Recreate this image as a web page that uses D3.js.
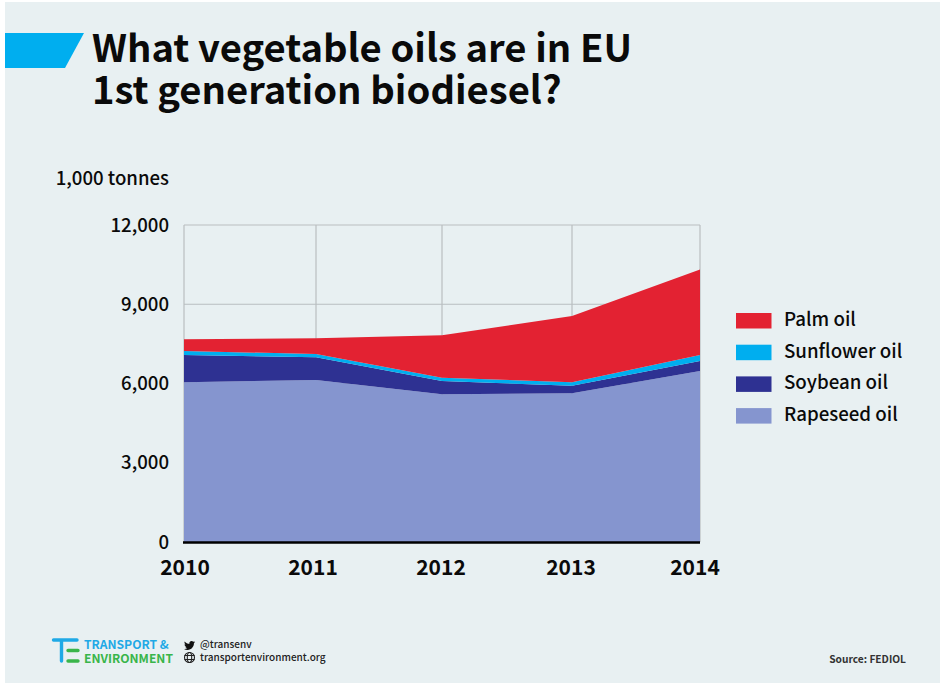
<!DOCTYPE HTML>
<html>
  <head>
    <script src="https://d3js.org/d3.v7.min.js"></script>
    <style>
      body, html {
        margin: 0;
        background: #fff;
      }
      svg {
        display: block;
      }
      text {
        font-family: "Noto Sans CJK JP", "Noto Sans", sans-serif;
        fill: #0a0a0a;
      }
      .title { font-size: 38.2px; font-weight: 700; }
      .unit { font-size: 18.6px; font-weight: 500; }
      .ytick { font-size: 18.6px; font-weight: 500; text-anchor: end; }
      .xtick { font-size: 21px; font-weight: 700; text-anchor: middle; }
      .legend { font-size: 18.7px; font-weight: 500; }
      .small { font-size: 10px; font-weight: 500; fill: #222; }
      .source { font-size: 10.2px; font-weight: 700; fill: #333; }
      .logo { font-size: 12.1px; font-weight: 700; }
    </style>
  </head>
  <body>
    <div id="chart"></div>
    <script>
      var years = [2010, 2011, 2012, 2013, 2014];
      var rapeseed = [6045, 6130, 5590, 5630, 6470];
      var soybean = [1035, 860, 505, 287, 380];
      var sunflower = [150, 125, 125, 128, 230];
      var palm = [445, 595, 1605, 2510, 3240];
      var yTicks = [0, 3000, 6000, 9000, 12000];
      var seriesNames = ["Rapeseed oil", "Soybean oil", "Sunflower oil", "Palm oil"];
      var seriesColors = ["#8595cf", "#2e3192", "#00aeef", "#e32232"];

      var svg = d3.select("#chart").append("svg")
        .attr("width", 940)
        .attr("height", 684);

      svg.append("rect")
        .attr("x", 5).attr("y", 2)
        .attr("width", 935).attr("height", 681)
        .attr("fill", "#e8f0f2");

      // header flag and title
      svg.append("path")
        .attr("d", "M5,33H84L65,68H5Z")
        .attr("fill", "#00aeef");
      svg.append("text").attr("class", "title").attr("x", 92).attr("y", 62).text("What vegetable oils are in EU");
      svg.append("text").attr("class", "title").attr("x", 92).attr("y", 104).text("1st generation biodiesel?");
      svg.append("text").attr("class", "unit").attr("x", 169).attr("y", 185).attr("text-anchor", "end").text("1,000 tonnes");

      // the years are not evenly spaced in the original artwork
      var x = d3.scaleLinear().domain(years).range([184, 316, 442, 572, 700]);
      var xLabel = d3.scaleLinear().domain(years).range([185, 313, 441, 571, 695]);
      var y = d3.scaleLinear().domain([0, 12000]).range([542, 225]);

      var rows = years.map(function(yr, i) {
        return {year: yr, "Rapeseed oil": rapeseed[i], "Soybean oil": soybean[i], "Sunflower oil": sunflower[i], "Palm oil": palm[i]};
      });
      var stacked = d3.stack().keys(seriesNames)(rows);

      // grid
      var grid = svg.append("g").attr("stroke", "#b9bec0").attr("stroke-width", 1.2);
      grid.selectAll("line.v").data(years).enter().append("line")
        .attr("x1", d => x(d)).attr("x2", d => x(d))
        .attr("y1", y(12000)).attr("y2", y(0));
      grid.selectAll("line.h").data(yTicks.slice(1)).enter().append("line")
        .attr("x1", x(2010)).attr("x2", x(2014))
        .attr("y1", d => y(d)).attr("y2", d => y(d));

      var area = d3.area()
        .x(d => x(d.data.year))
        .y0(d => y(d[0]))
        .y1(d => y(d[1]));

      svg.append("g").selectAll("path")
        .data(stacked)
        .enter().append("path")
        .attr("d", area)
        .attr("fill", (d, i) => seriesColors[i]);

      svg.append("line")
        .attr("x1", x(2010) - 1).attr("x2", x(2014))
        .attr("y1", y(0) + 0.5).attr("y2", y(0) + 0.5)
        .attr("stroke", "#000").attr("stroke-width", 2.5);

      // tick labels
      svg.selectAll("text.ytick").data(yTicks).enter().append("text")
        .attr("class", "ytick")
        .attr("x", 169)
        .attr("y", d => y(d) + 6.5)
        .text(d => d3.format(",")(d));
      svg.selectAll("text.xtick").data(years).enter().append("text")
        .attr("class", "xtick")
        .attr("x", d => xLabel(d))
        .attr("y", 575)
        .text(d => d);

      // legend, top entry first
      var legend = svg.selectAll("g.legend")
        .data(seriesNames.slice().reverse())
        .enter().append("g")
        .attr("transform", (d, i) => "translate(736," + (313 + i * 31.7) + ")");
      legend.append("rect")
        .attr("width", 35.5).attr("height", 15.5)
        .attr("fill", (d, i) => seriesColors[3 - i]);
      legend.append("text")
        .attr("class", "legend")
        .attr("x", 48).attr("y", 13)
        .text(d => d);

      // footer: logo, social, source
      var logo = svg.append("g");
      logo.append("path").attr("d", "M53.5,640H77M61.5,640V661").attr("stroke", "#1fa9e6").attr("stroke-width", 3.4).attr("stroke-linecap", "round").attr("fill", "none");
      logo.append("path").attr("d", "M68,650.5H78M68,661H78").attr("stroke", "#39b54a").attr("stroke-width", 3.4).attr("stroke-linecap", "round").attr("fill", "none");
      logo.append("text").attr("class", "logo").attr("x", 84).attr("y", 649).style("fill", "#1fa9e6").text("TRANSPORT &");
      logo.append("text").attr("class", "logo").attr("x", 84).attr("y", 663).style("fill", "#39b54a").text("ENVIRONMENT");

      svg.append("path")
        .attr("transform", "translate(184,640) scale(0.46)")
        .attr("fill", "#111")
        .attr("d", "M23.953 4.57a10 10 0 01-2.825.775 4.958 4.958 0 002.163-2.723c-.951.555-2.005.959-3.127 1.184a4.92 4.92 0 00-8.384 4.482C7.69 8.095 4.067 6.13 1.64 3.162a4.822 4.822 0 00-.666 2.475c0 1.71.87 3.213 2.188 4.096a4.904 4.904 0 01-2.228-.616v.06a4.923 4.923 0 003.946 4.827 4.996 4.996 0 01-2.212.085 4.936 4.936 0 004.604 3.417 9.867 9.867 0 01-6.102 2.105c-.39 0-.779-.023-1.17-.067a13.995 13.995 0 007.557 2.209c9.053 0 13.998-7.496 13.998-13.985 0-.21 0-.42-.015-.63A9.935 9.935 0 0024 4.59z");
      var globe = svg.append("g").attr("fill", "none").attr("stroke", "#222").attr("stroke-width", 1.1);
      globe.append("circle").attr("cx", 189.5).attr("cy", 657.5).attr("r", 5);
      globe.append("ellipse").attr("cx", 189.5).attr("cy", 657.5).attr("rx", 2.2).attr("ry", 5);
      globe.append("path").attr("d", "M184.5,655.5H194.5M184.5,659.5H194.5");
      svg.append("text").attr("class", "small").attr("x", 200).attr("y", 648).text("@transenv");
      svg.append("text").attr("class", "small").attr("x", 200).attr("y", 661).text("transportenvironment.org");
      svg.append("text").attr("class", "source").attr("x", 906).attr("y", 663).attr("text-anchor", "end").text("Source: FEDIOL");
    </script>
  </body>
</html>
